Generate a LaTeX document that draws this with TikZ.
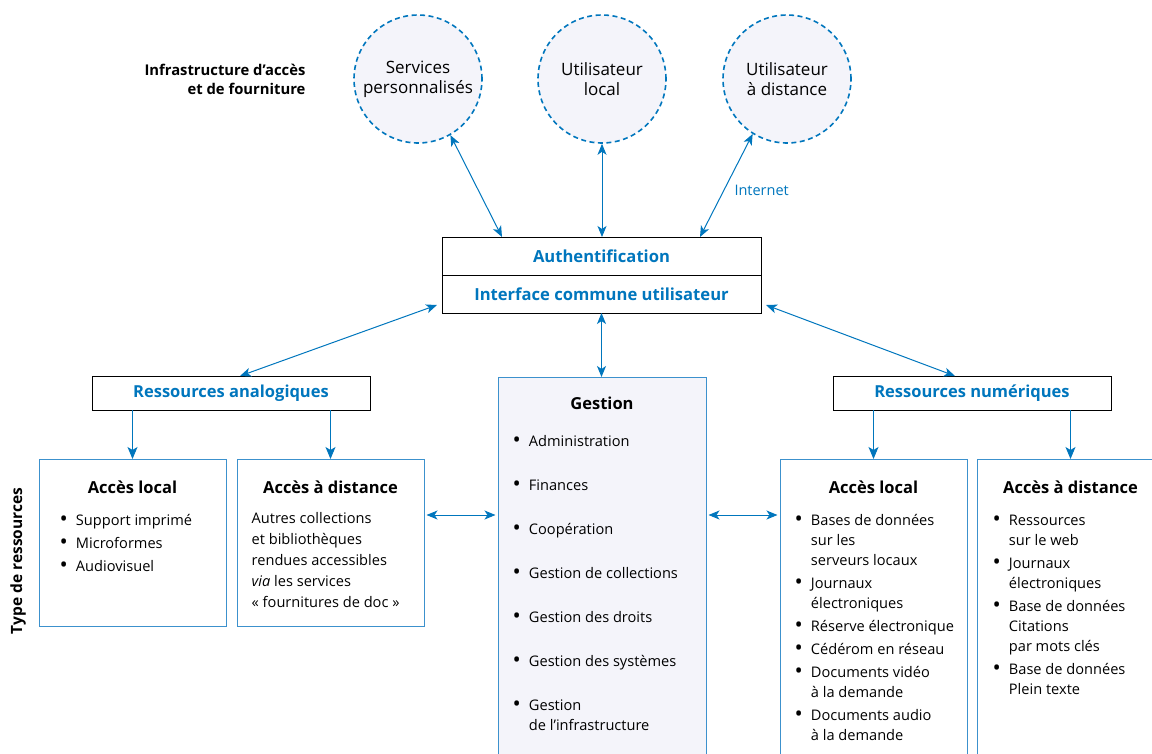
\documentclass[tikz,border=0pt]{standalone}
\usepackage{fontspec}
\setmainfont{Open Sans}
\usetikzlibrary{arrows.meta,positioning,calc}
\definecolor{ablue}{RGB}{0,118,189}
\definecolor{bline}{RGB}{60,145,205}
\definecolor{lav}{RGB}{244,244,250}
\newcommand{\fs}[2]{\fontsize{#1}{#2}\selectfont}
\newcommand{\bul}{\raisebox{-0.22ex}{\scalebox{1.5}{\textbullet}}}
\tikzset{
  circ/.style={circle, draw=ablue, fill=lav, line width=1.6pt, dash pattern=on 5pt off 3.5pt,
    minimum size=128pt, align=center, font=\fs{17}{20}},
  hbox/.style={draw=black, line width=1pt, fill=white, text=ablue, font=\bfseries\fs{16.6}{19},
    inner sep=0pt, outer sep=0pt},
  rbox/.style={draw=bline, line width=1pt, fill=white, inner sep=0pt, anchor=north},
  ttl/.style={font=\bfseries\fs{16.5}{19}, anchor=north, inner sep=0pt},
  lst/.style={font=\fs{14.6}{20}, anchor=north west, inner sep=0pt, align=left},
  dbl/.style={ablue, line width=1pt, {Stealth[length=11pt,width=9pt,inset=3pt]}-{Stealth[length=11pt,width=9pt,inset=3pt]}},
  sgl/.style={ablue, line width=1pt, -{Stealth[length=12pt,width=10pt,inset=3pt]}},
}
\begin{document}
\begin{tikzpicture}[x=1pt,y=-1pt]
\useasboundingbox (0,0) rectangle (1152,753);

% infrastructure
\node[circ] (serv) at (418,79) {Services\\personnalisés};
\node[circ] (uloc) at (602,79) {Utilisateur\\local};
\node[circ] (udist) at (787,79) {Utilisateur\\à distance};
\node[font=\bfseries\fs{14.8}{19}, align=right, anchor=east] (infra) at (309,79) {Infrastructure d’accès\\et de fourniture};

% authentification
\node[hbox, minimum width=319pt, minimum height=38pt] (auth) at (601.5,256) {Authentification};
\node[hbox, minimum width=319pt, minimum height=38pt, below=0pt of auth] (iface) {Interface commune utilisateur};
\draw[dbl] (serv.-60) -- ([xshift=60pt]auth.north west);
\draw[dbl] (uloc.south) -- (uloc.south |- auth.north);
\draw[dbl] (udist.-122) -- node[right=7pt, pos=0.55, text=ablue, font=\fs{14.5}{17}] (inet) {Internet} ([xshift=-61pt]auth.north east);

% ressources
\node[hbox, minimum width=278pt, minimum height=34pt, font=\bfseries\fs{16.5}{18}] (analog) at (231,393) {Ressources analogiques};
\node[hbox, minimum width=278pt, minimum height=34pt, font=\bfseries\fs{16.5}{18}] (numer) at (972,393) {Ressources numériques};
\draw[dbl] ([shift={(-5pt,8pt)}]iface.south west) -- ([xshift=9pt]analog.north);
\draw[dbl] ([shift={(5pt,8pt)}]iface.south east) -- ([xshift=-17pt]numer.north);

% gestion
\node[rbox, fill=lav, minimum width=208pt, minimum height=400pt] (gest) at (602,377) {};
\draw[dbl] (iface.south) -- (iface.south |- gest.north);

\node[rbox, minimum width=187pt, minimum height=167pt] (aloc) at (132.5,459) {};
\node[rbox, minimum width=187pt, minimum height=167pt] (adist) at (330.5,459) {};
\node[rbox, minimum width=187pt, minimum height=320pt] (nloc) at (873.5,459) {};
\node[rbox, minimum width=187pt, minimum height=320pt] (ndist) at (1070.5,459) {};
\draw[sgl] (analog.south -| aloc.north) -- (aloc.north);
\draw[sgl] (analog.south -| adist.north) -- (adist.north);
\draw[sgl] (numer.south -| nloc.north) -- (nloc.north);
\draw[sgl] (numer.south -| ndist.north) -- (ndist.north);

\coordinate (hy) at (0,515);
\draw[dbl, shorten <=2pt, shorten >=2pt] (adist.east |- hy) -- (gest.west |- hy);
\draw[dbl, shorten <=2pt, shorten >=2pt] (gest.east |- hy) -- (nloc.west |- hy);

% textes
\node[ttl] (gestT) at ([yshift=-20pt]gest.north) {Gestion};
\node[ttl] (alocT) at ([yshift=-22pt]aloc.north) {Accès local};
\node[ttl] (adistT) at ([yshift=-22pt]adist.north) {Accès à distance};
\node[ttl] (nlocT) at ([yshift=-22pt]nloc.north) {Accès local};
\node[ttl] (ndistT) at ([yshift=-22pt]ndist.north) {Accès à distance};

\node[lst] (alocL) at ([shift={(21pt,-52pt)}]aloc.north west) {%
  \begin{tabular}{@{}l@{\hspace{8pt}}l@{}}
  \bul & Support imprimé\\[3pt]
  \bul & Microformes\\[3pt]
  \bul & Audiovisuel
  \end{tabular}};
\node[lst, font=\fs{14.6}{21}] (adistL) at ([shift={(15pt,-50pt)}]adist.north west) {%
  \begin{tabular}{@{}l@{}}
  Autres collections\\
  et bibliothèques\\
  rendues accessibles\\
  \textit{via} les services\\
  «~fournitures de doc~»
  \end{tabular}};
\node[lst] (gestL) at ([shift={(15pt,-55pt)}]gest.north west) {%
  \begin{tabular}{@{}l@{\hspace{8pt}}l@{}}
  \bul & Administration\\[24pt]
  \bul & Finances\\[24pt]
  \bul & Coopération\\[24pt]
  \bul & Gestion de collections\\[24pt]
  \bul & Gestion des droits\\[24pt]
  \bul & Gestion des systèmes\\[24pt]
  \bul & Gestion\\
       & de l’infrastructure
  \end{tabular}};
\node[lst] (nlocL) at ([shift={(15pt,-52pt)}]nloc.north west) {%
  \begin{tabular}{@{}l@{\hspace{8pt}}l@{}}
  \bul & Bases de données\\
       & sur les\\
       & serveurs locaux\\[3pt]
  \bul & Journaux\\
       & électroniques\\[3pt]
  \bul & Réserve électronique\\[3pt]
  \bul & Cédérom en réseau\\[3pt]
  \bul & Documents vidéo\\
       & à la demande\\[3pt]
  \bul & Documents audio\\
       & à la demande
  \end{tabular}};
\node[lst] (ndistL) at ([shift={(16pt,-52pt)}]ndist.north west) {%
  \begin{tabular}{@{}l@{\hspace{8pt}}l@{}}
  \bul & Ressources\\
       & sur le web\\[3pt]
  \bul & Journaux\\
       & électroniques\\[3pt]
  \bul & Base de données\\
       & Citations\\
       & par mots clés\\[3pt]
  \bul & Base de données\\
       & Plein texte
  \end{tabular}};

\node[rotate=90, font=\bfseries\fs{15.5}{16}] (typ) at (18,561) {Type de ressources};
\end{tikzpicture}
\end{document}
